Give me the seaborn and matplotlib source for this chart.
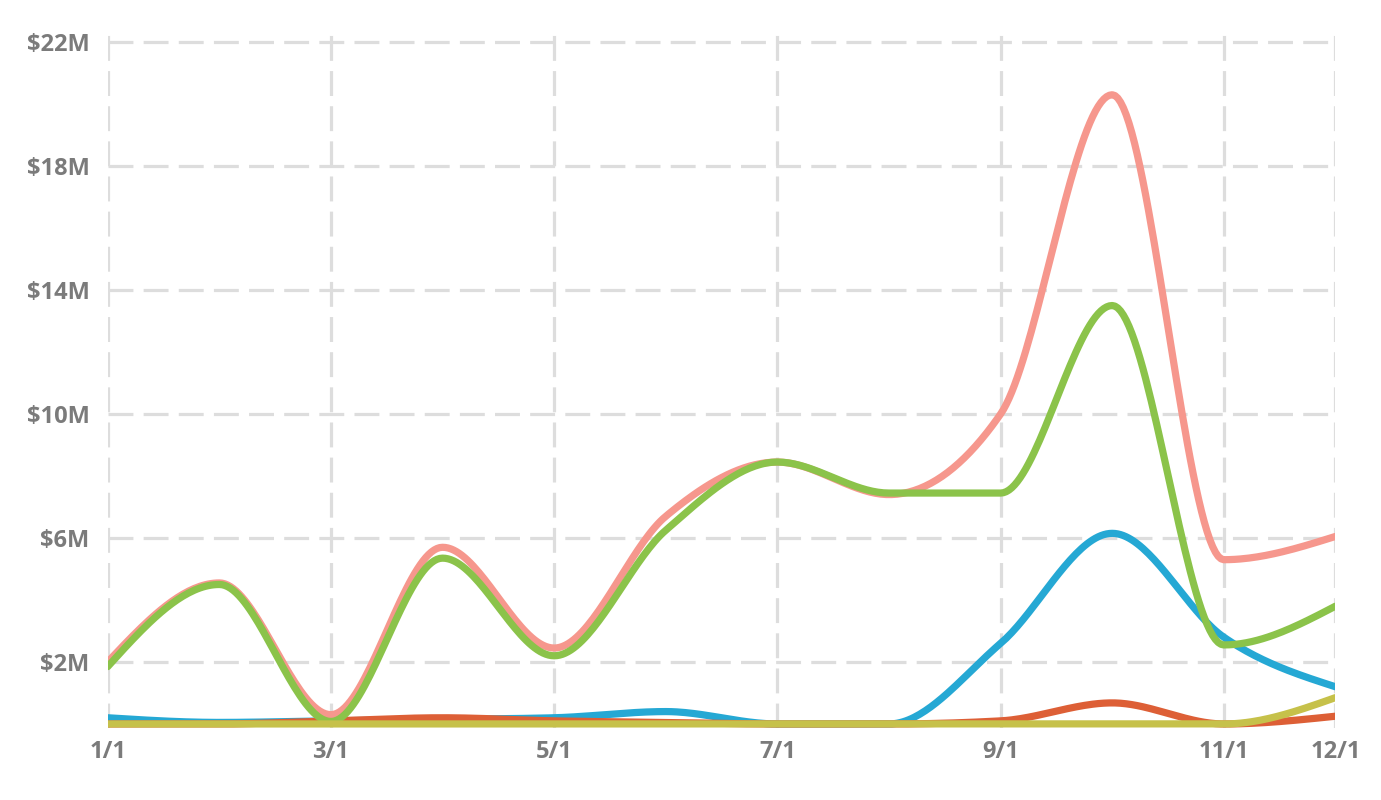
import numpy as np
import pandas as pd
import seaborn as sns
import matplotlib.pyplot as plt

sns.set_style("white")
plt.rcParams['font.family'] = ['Open Sans', 'DejaVu Sans']

# monthly values, $M (1/1 .. 12/1)
months = [1, 2, 3, 4, 5, 6, 7, 8, 9, 10, 11, 12]
total = [2.0, 4.55, 0.3, 5.7, 2.45, 6.7, 8.45, 7.4, 10.0, 20.3, 5.3, 6.05]
green = [1.85, 4.5, 0.08, 5.35, 2.2, 6.25, 8.45, 7.45, 7.45, 13.5, 2.55, 3.8]
blue = [0.2, 0.05, 0.1, 0.15, 0.2, 0.4, 0.0, 0.0, 2.6, 6.15, 2.8, 1.2]
red = [0.0, 0.0, 0.1, 0.2, 0.1, 0.05, 0.0, 0.0, 0.1, 0.68, 0.0, 0.25]
olive = [0.0, 0.0, 0.0, 0.0, 0.0, 0.0, 0.0, 0.0, 0.0, 0.0, 0.0, 0.85]

tick_pos = [1, 3, 5, 7, 9, 11, 12]
tick_labels = ['1/1', '3/1', '5/1', '7/1', '9/1', '11/1', '12/1']
ytick_pos = [2, 6, 10, 14, 18, 22]
ytick_labels = ['$2M', '$6M', '$10M', '$14M', '$18M', '$22M']

# draw order matters: later series sit on top
series = [
    ('blue', blue, '#25a8d4'),
    ('red', red, '#dd5f36'),
    ('total', total, '#f6978d'),
    ('green', green, '#8bc34a'),
    ('olive', olive, '#c6c14a'),
]


def monotone(x, y, n=40):
    # monotone cubic (same idea as d3 curveMonotoneX)
    x = np.asarray(x, float)
    y = np.asarray(y, float)
    h = np.diff(x)
    s = np.diff(y) / h
    t = np.zeros(len(x))
    for i in range(1, len(x) - 1):
        p = (s[i - 1] * h[i] + s[i] * h[i - 1]) / (h[i - 1] + h[i])
        t[i] = (np.sign(s[i - 1]) + np.sign(s[i])) * min(abs(s[i - 1]), abs(s[i]), 0.5 * abs(p))
    t[0] = (3 * s[0] - t[1]) / 2
    t[-1] = (3 * s[-1] - t[-2]) / 2
    xs, ys = [], []
    for i in range(len(x) - 1):
        u = np.linspace(0, 1, n, endpoint=False)
        x0, x1, y0, y1 = x[i], x[i + 1], y[i], y[i + 1]
        d = h[i] / 3
        c0, c1 = y0 + d * t[i], y1 - d * t[i + 1]
        xs.append(x0 + (x1 - x0) * u)
        ys.append((1 - u) ** 3 * y0 + 3 * (1 - u) ** 2 * u * c0 + 3 * (1 - u) * u ** 2 * c1 + u ** 3 * y1)
    xs.append([x[-1]])
    ys.append([y[-1]])
    return np.concatenate(xs), np.concatenate(ys)


fig = plt.figure(figsize=(13.81, 8), dpi=100)
ax = fig.add_axes([0.078, 0.09, 0.889, 0.8675])

for name, vals, color in series:
    sx, sy = monotone(months, vals)
    df = pd.DataFrame({'month': sx, 'value': sy})
    sns.lineplot(data=df, x='month', y='value', color=color, linewidth=5.2,
                 sort=False, ax=ax, solid_capstyle='round', zorder=3)

ax.set_xlim(1, 12)
ax.set_ylim(-0.13, 22.26)
ax.set_xticks(tick_pos)
ax.set_xticklabels(tick_labels)
ax.set_yticks(ytick_pos)
ax.set_yticklabels(ytick_labels)
ax.set_xlabel('')
ax.set_ylabel('')

ax.grid(True, color='#dddddd', linewidth=2.3, linestyle=(0, (7.8, 3.2)), zorder=0)
ax.set_axisbelow(True)
for sp in ax.spines.values():
    sp.set_visible(False)

ax.tick_params(axis='both', length=0, labelsize=17, labelcolor='#7b7b7b')
ax.tick_params(axis='x', pad=9)
ax.tick_params(axis='y', pad=13)
for lab in ax.get_xticklabels() + ax.get_yticklabels():
    lab.set_fontweight('bold')

fig.savefig('out.png', dpi=100)
